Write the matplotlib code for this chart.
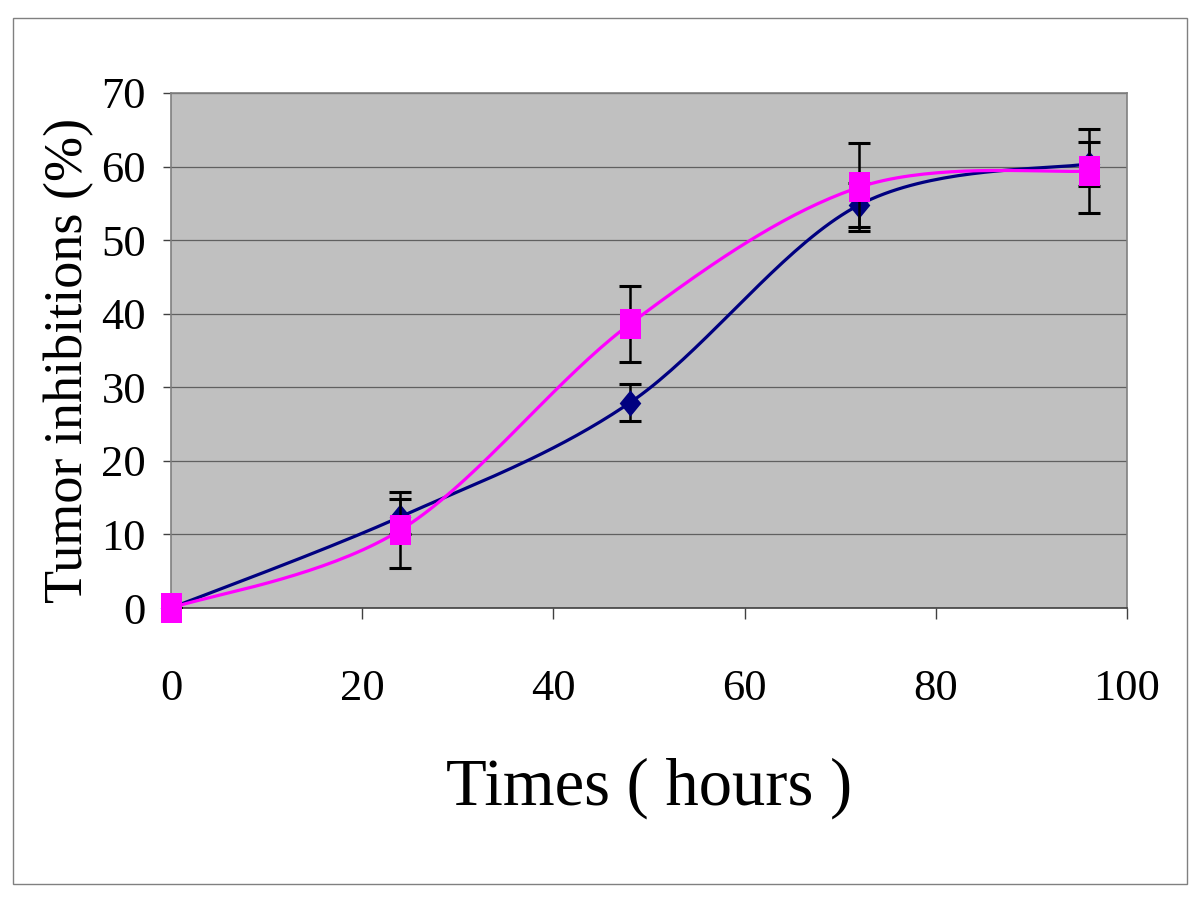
import matplotlib.pyplot as plt
import numpy as np
from matplotlib.patches import Rectangle
from matplotlib.path import Path

# data
hours = [0, 24, 48, 72, 96]
series_a = [0.0, 12.4, 27.9, 54.8, 60.4]
err_a = [0.0, 2.4, 2.5, 3.0, 3.0]
series_b = [0.0, 10.6, 38.6, 57.2, 59.4]
err_b = [0.0, 5.2, 5.1, 6.0, 5.7]


def smooth(xs, ys, n=40):
    """Excel-style smoothed line: cubic Bezier through the points."""
    xs = np.asarray(xs, float)
    ys = np.asarray(ys, float)
    px = np.concatenate([[xs[0]], xs, [xs[-1]]])
    py = np.concatenate([[ys[0]], ys, [ys[-1]]])
    out_x, out_y = [], []
    t = np.linspace(0, 1, n)
    for i in range(1, len(px) - 2):
        p0 = np.array([px[i], py[i]])
        p3 = np.array([px[i + 1], py[i + 1]])
        p1 = p0 + (np.array([px[i + 1], py[i + 1]]) - np.array([px[i - 1], py[i - 1]])) / 6
        p2 = p3 - (np.array([px[i + 2], py[i + 2]]) - np.array([px[i], py[i]])) / 6
        b = ((1 - t) ** 3)[:, None] * p0 + (3 * (1 - t) ** 2 * t)[:, None] * p1 \
            + (3 * (1 - t) * t ** 2)[:, None] * p2 + (t ** 3)[:, None] * p3
        out_x.extend(b[:, 0])
        out_y.extend(b[:, 1])
    return out_x, out_y


# markers are taller than wide in the original
tall_square = Path([(-0.36, -0.5), (0.36, -0.5), (0.36, 0.5), (-0.36, 0.5), (-0.36, -0.5)],
                   closed=True)
tall_diamond = Path([(0, -0.5), (0.41, 0), (0, 0.5), (-0.41, 0), (0, -0.5)], closed=True)

plt.rcParams["font.family"] = ["Liberation Serif", "DejaVu Serif"]

fig = plt.figure(figsize=(12, 9), dpi=100)
fig.patches.append(Rectangle((13 / 1200, 16 / 900), 1174 / 1200, 866 / 900,
                             transform=fig.transFigure, fill=False,
                             edgecolor="#808080", linewidth=1))

ax = fig.add_axes([171 / 1200, 1 - 608 / 900, 956 / 1200, 515 / 900])
ax.set_facecolor("#C0C0C0")

# navy series
sx, sy = smooth(hours, series_a)
ax.plot(sx, sy, color="#000080", linewidth=2.3, zorder=3)
ax.errorbar(hours, series_a, yerr=err_a, fmt="none", ecolor="black",
            elinewidth=1.8, capsize=8, capthick=2.2, zorder=4)
ax.plot(hours, series_a, linestyle="none", marker=tall_diamond, markersize=19,
        markeredgewidth=0, color="#000080", zorder=5, clip_on=False)

# magenta series
sx, sy = smooth(hours, series_b)
ax.plot(sx, sy, color="#FF00FF", linewidth=2.3, zorder=6)
ax.errorbar(hours, series_b, yerr=err_b, fmt="none", ecolor="black",
            elinewidth=1.8, capsize=8, capthick=2.2, zorder=7)
ax.plot(hours, series_b, linestyle="none", marker=tall_square, markersize=21,
        markeredgewidth=0, color="#FF00FF", zorder=8, clip_on=False)

ax.set_xlim(0, 100)
ax.set_ylim(0, 70)
ax.set_xticks(range(0, 101, 20))
ax.set_yticks(range(0, 71, 10))
ax.grid(axis="y", color="#606060", linewidth=0.9)
ax.set_axisbelow(True)

for side in ["top", "right", "left"]:
    ax.spines[side].set_color("#808080")
    ax.spines[side].set_linewidth(1.2)
ax.spines["bottom"].set_color("#404040")
ax.spines["bottom"].set_linewidth(1.2)

ax.tick_params(axis="x", direction="out", length=8, width=1, color="#404040",
               pad=36, labelsize=32)
ax.tick_params(axis="y", direction="out", length=6, width=1, color="#404040",
               pad=12, labelsize=32)

ax.set_xlabel("Times ( hours )", fontsize=48)
ax.xaxis.set_label_coords(0.5, -0.29)
ax.set_ylabel("Tumor inhibitions (%)", fontsize=39)
ax.yaxis.set_label_coords(-0.08, 0.48)

fig.savefig("out.png", dpi=100)
